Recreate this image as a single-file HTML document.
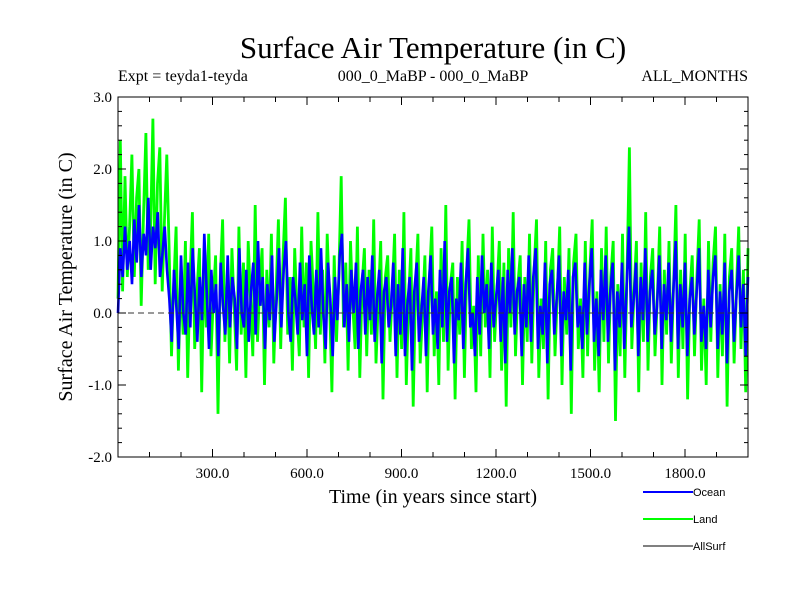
<!DOCTYPE html>
<html><head><meta charset="utf-8"><style>
body{margin:0;background:#fff}
svg text{font-family:"Liberation Serif",serif}
svg text.sans{font-family:"Liberation Sans",sans-serif}
</style></head><body>
<svg id="c" width="800" height="600" xmlns="http://www.w3.org/2000/svg">
<text x="433" y="58" font-size="31" text-anchor="middle">Surface Air Temperature (in C)</text>
<text x="118" y="81" font-size="16">Expt = teyda1-teyda</text>
<text x="433" y="81" font-size="16" text-anchor="middle">000_0_MaBP - 000_0_MaBP</text>
<text x="748" y="81" font-size="16" text-anchor="end">ALL_MONTHS</text>
<text transform="translate(72,277) rotate(-90)" font-size="20" text-anchor="middle">Surface Air Temperature (in C)</text>
<text x="433" y="503" font-size="20" text-anchor="middle">Time (in years since start)</text>
<g id="series"></g>
<g id="axes"></g>
<g>
<line x1="643" y1="492" x2="693" y2="492" stroke="#0000ff" stroke-width="2"/>
<text class="sans" x="693" y="496" font-size="11">Ocean</text>
<line x1="643" y1="519" x2="693" y2="519" stroke="#00ff00" stroke-width="2"/>
<text class="sans" x="693" y="523" font-size="11">Land</text>
<line x1="643" y1="546" x2="693" y2="546" stroke="#000" stroke-width="1"/>
<text class="sans" x="693" y="550" font-size="11">AllSurf</text>
</g>
</svg>
<script>
const xTicks=[300,600,900,1200,1500,1800];
const xTickLabels=["300.0","600.0","900.0","1200.0","1500.0","1800.0"];
const yTicks=[3,2,1,0,-1,-2];
const yTickLabels=["3.0","2.0","1.0","0.0","-1.0","-2.0"];
const land=[0.2,2.4,0.3,1.9,0.5,1.2,2.2,0.5,1.6,2.0,0.1,1.4,2.5,0.6,1.1,2.7,0.4,1.8,2.3,0.3,1.3,2.2,
0.9,-0.6,0.4,1.2,-0.8,0.6,-0.3,1.0,-0.9,0.5,1.4,-0.5,0.3,0.9,-1.1,0.7,-0.2,1.1,-0.6,0.2,
0.8,-1.4,0.5,1.3,-0.4,0.6,-0.7,0.9,0.1,-0.8,1.2,-0.3,0.7,-0.9,1.0,0.2,-0.6,1.5,-0.4,0.4,
0.9,-1.0,0.6,-0.2,1.1,-0.7,0.3,1.3,-0.5,0.8,1.6,-0.3,0.5,-0.8,0.9,0.0,-0.6,1.2,-0.2,0.7,
-0.9,1.0,0.3,-0.5,1.4,-0.3,0.6,-0.7,1.1,0.2,-1.1,0.8,-0.4,0.5,1.9,-0.2,0.7,-0.8,1.0,0.1,
-0.5,1.2,-0.9,0.4,0.9,-0.6,0.6,-0.3,1.3,-0.7,0.2,1.0,-1.2,0.5,0.8,-0.4,0.3,1.1,-0.9,0.6,
-0.5,1.4,-1.0,0.2,0.9,-1.3,0.4,1.1,-0.7,0.0,0.8,-1.1,0.5,1.2,-0.6,0.3,-1.0,0.9,-0.4,1.5,
-0.8,0.4,0.7,-1.2,0.5,-0.3,1.0,-0.9,0.6,1.3,-0.5,0.1,-1.1,0.8,-0.6,1.1,-0.2,0.6,-0.9,1.2,
-0.4,0.3,1.0,-0.8,0.7,-1.3,0.9,-0.2,1.4,-0.6,0.4,0.8,-1.0,0.5,-0.4,1.1,-0.7,0.6,1.3,-0.9,
0.2,-0.5,1.0,-1.2,0.6,0.9,-0.6,0.3,1.2,-1.0,0.5,-0.3,0.9,-1.4,0.7,1.1,-0.5,0.2,-0.9,1.0,
-0.6,0.6,1.3,-0.8,0.3,-1.1,0.9,-0.4,1.2,-0.7,0.5,1.0,-1.5,0.4,-0.6,1.1,-0.9,0.6,2.3,-0.5,
0.3,1.0,-1.1,0.7,-0.4,1.4,-0.8,0.5,0.9,-0.6,0.2,1.2,-1.0,0.6,-0.3,1.0,-0.7,0.4,1.5,-0.9,
0.6,-0.5,1.1,-1.2,0.3,0.8,-0.6,0.5,1.3,-0.8,0.2,-1.0,1.0,-0.4,0.7,1.2,-0.9,0.4,-0.6,1.1,
-1.3,0.5,0.9,-0.7,0.3,1.2,-0.5,0.6,-1.1,0.9];
const ocean=[0.0,0.9,0.5,1.2,0.6,1.0,0.4,1.3,0.7,1.5,0.5,1.1,0.8,1.6,0.6,1.2,0.9,1.4,0.5,0.8,1.2,0.6,
0.2,-0.4,0.6,0.1,-0.5,0.8,0.0,-0.3,0.7,-0.2,0.9,0.2,-0.4,0.5,-0.1,1.1,0.3,-0.5,0.6,0.0,
0.4,-0.6,0.7,0.1,-0.3,0.8,-0.2,0.5,0.2,-0.5,0.9,0.0,-0.2,0.6,-0.4,0.3,0.7,-0.3,1.0,0.1,
0.5,-0.5,0.4,-0.1,0.8,-0.4,0.2,0.9,-0.2,0.6,1.0,0.0,-0.4,0.5,0.2,-0.3,0.7,-0.1,0.4,-0.6,
0.8,0.1,-0.3,0.6,-0.2,0.9,0.0,-0.5,0.7,0.2,-0.6,0.5,-0.1,0.8,1.1,-0.2,0.4,-0.4,0.6,0.0,
0.7,-0.5,0.3,0.6,-0.3,0.5,-0.1,0.8,-0.4,0.2,0.6,-0.7,0.3,0.5,-0.2,0.1,0.7,-0.6,0.4,-0.3,
0.9,-0.6,0.1,0.5,-0.8,0.3,0.7,-0.4,0.0,0.5,-0.6,0.3,0.8,-0.3,0.2,-0.5,0.6,-0.2,1.0,-0.4,
0.3,0.5,-0.7,0.2,-0.1,0.7,-0.5,0.4,0.9,-0.2,0.0,-0.6,0.5,-0.3,0.8,0.0,0.4,-0.5,0.7,-0.2,
0.2,0.6,-0.4,0.5,-0.7,0.6,0.0,0.9,-0.3,0.3,0.5,-0.6,0.4,-0.2,0.8,-0.4,0.5,0.9,-0.5,0.1,
-0.3,0.7,-0.7,0.4,0.6,-0.3,0.2,0.8,-0.6,0.3,-0.1,0.6,-0.8,0.5,0.7,-0.2,0.1,-0.5,0.7,-0.3,
0.4,0.9,-0.4,0.2,-0.6,0.6,-0.1,0.8,-0.4,0.3,0.7,-0.8,0.3,-0.2,0.7,-0.5,0.4,1.2,-0.2,0.2,
0.7,-0.6,0.5,-0.1,0.9,-0.4,0.3,0.6,-0.3,0.1,0.8,-0.5,0.4,-0.1,0.7,-0.4,0.3,1.0,-0.5,0.4,
-0.2,0.7,-0.6,0.2,0.5,-0.3,0.3,0.9,-0.4,0.1,-0.5,0.6,-0.2,0.5,0.8,-0.5,0.3,-0.3,0.7,-0.7,
0.3,0.6,-0.4,0.2,0.8,-0.2,0.4,-0.6,0.5];
const yearStart=0, yearEnd=2000;
const L=118,R=748,T=97,B=457;
const xs=v=>L+(v-yearStart)/(yearEnd-yearStart)*(R-L);
const ys=v=>T+(3-v)/5*(B-T);
const NS="http://www.w3.org/2000/svg";
function mk(tag,parent){const e=document.createElementNS(NS,tag);parent.appendChild(e);return e;}
const sg=document.getElementById('series'), ag=document.getElementById('axes');
function series(arr,color,name,w){
  const n=arr.length;
  const d=arr.map((v,i)=>(i?'L':'M')+xs(yearStart+i*(yearEnd-yearStart)/(n-1)).toFixed(1)+','+ys(v).toFixed(1)).join('');
  const p=mk('path',sg);
  p.setAttribute('d',d);p.setAttribute('fill','none');p.setAttribute('stroke',color);p.setAttribute('stroke-width',w);p.setAttribute('stroke-linejoin','bevel');
  
  
}
series(land,'#00ff00','land-series','2.8');
series(ocean,'#0000ff','ocean-series','2.6');
const z=mk('line',ag);
z.setAttribute('x1',L);z.setAttribute('x2',R);z.setAttribute('y1',ys(0));z.setAttribute('y2',ys(0));
z.setAttribute('stroke','#333');z.setAttribute('stroke-dasharray','6,4');


const fr=mk('rect',ag);
fr.setAttribute('x',L);fr.setAttribute('y',T);fr.setAttribute('width',R-L);fr.setAttribute('height',B-T);
fr.setAttribute('fill','none');fr.setAttribute('stroke','#000');


function tick(x1,y1,x2,y2){const t=mk('line',ag);t.setAttribute('x1',x1);t.setAttribute('y1',y1);t.setAttribute('x2',x2);t.setAttribute('y2',y2);t.setAttribute('stroke','#000');

}
for(let yr=100;yr<2000;yr+=100){const len=yr%300===0?8:5;tick(xs(yr),T,xs(yr),T+len);tick(xs(yr),B,xs(yr),B-len);}
for(let k=-10;k<=15;k++){const v=k/5;const len=k%5===0?8:4;tick(L,ys(v),L+len,ys(v));tick(R,ys(v),R-len,ys(v));}
xTicks.forEach((v,i)=>{const t=mk('text',ag);t.setAttribute('x',xs(v));t.setAttribute('y',B+21);t.setAttribute('font-size','15');t.setAttribute('text-anchor','middle');t.textContent=xTickLabels[i];

});
yTicks.forEach((v,i)=>{const t=mk('text',ag);t.setAttribute('x',L-6);t.setAttribute('y',ys(v)+5);t.setAttribute('font-size','15');t.setAttribute('text-anchor','end');t.textContent=yTickLabels[i];

});
</script>
</body></html>
